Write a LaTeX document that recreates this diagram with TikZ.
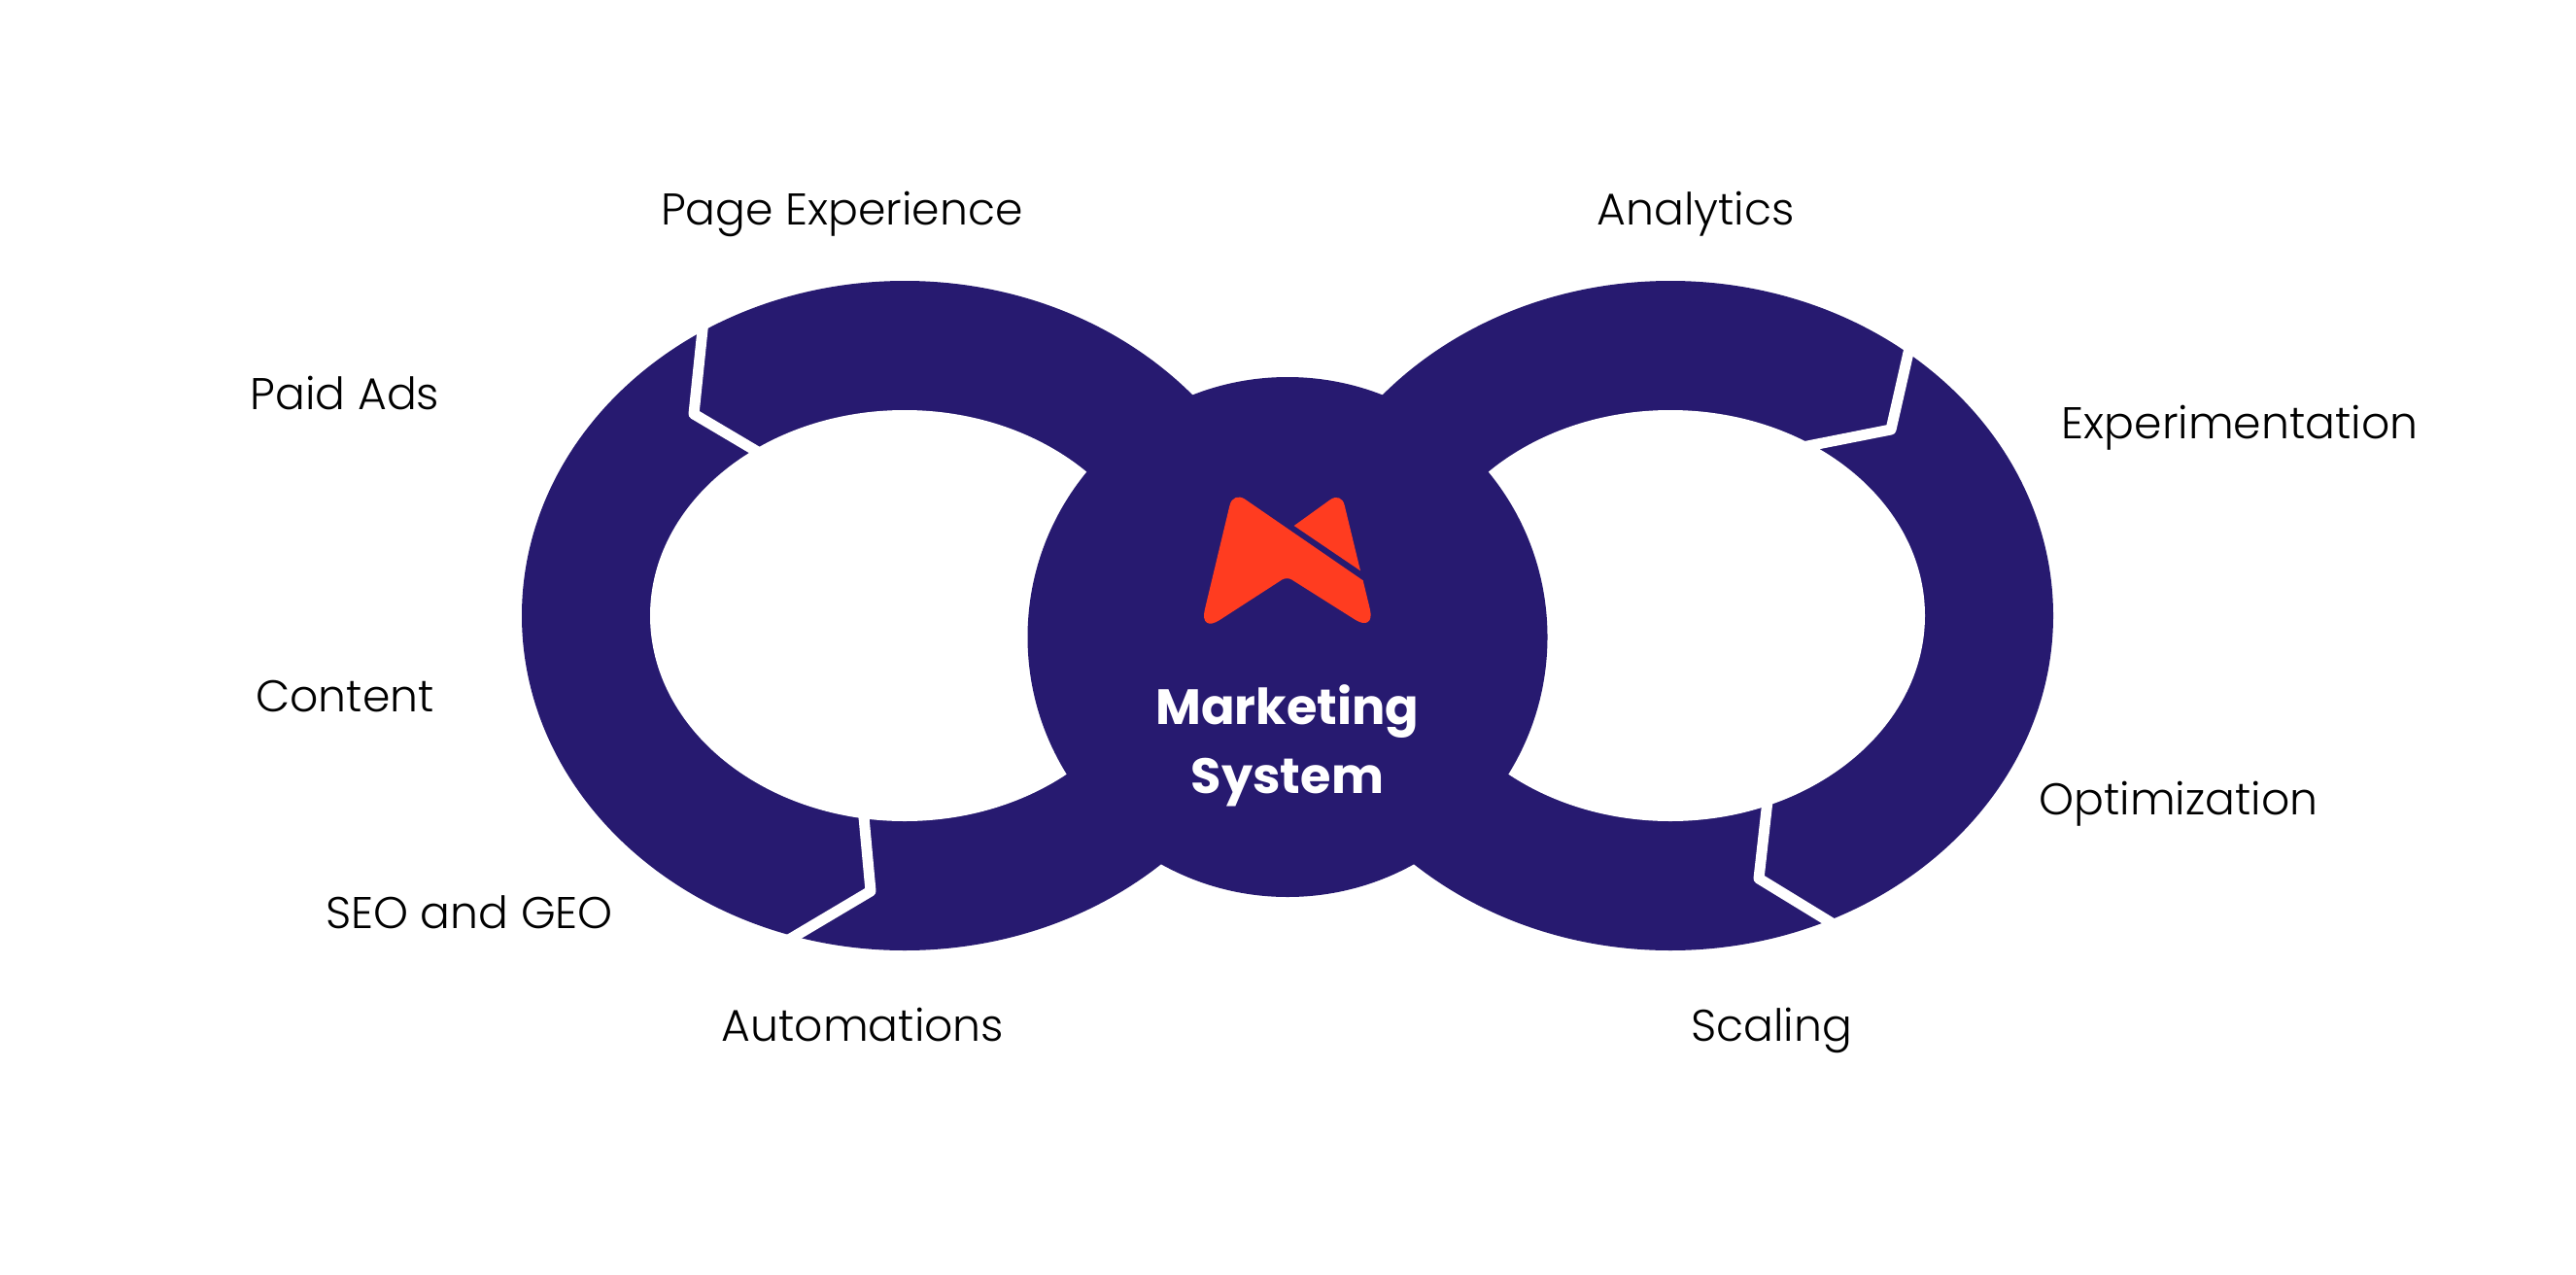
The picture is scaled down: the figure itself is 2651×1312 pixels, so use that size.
\documentclass[tikz,border=0pt]{standalone}
\usepackage{xcolor}
\usepackage{fontspec}
\setmainfont{Poppins}[UprightFont=* Light,BoldFont=* Bold]
\usepackage{tikz}
\usetikzlibrary{positioning}
\definecolor{ringblue}{HTML}{271A70}
\definecolor{logored}{HTML}{FF3C20}

\begin{document}
\begin{tikzpicture}[x=0.01cm,y=-0.01cm]
	\tikzstyle{topic}=[anchor=base,inner sep=0pt,font=\fontsize{13}{15}\selectfont]
	\tikzstyle{title}=[anchor=base,inner sep=0pt,text=white,font=\fontsize{14.5}{17}\selectfont\bfseries]
	\tikzstyle{gap}=[draw=white,line width=0.11cm,line join=round]
	\useasboundingbox (0,0) rectangle (2651,1312);
	% rings
	\fill[ringblue] (931,633.5) ellipse [x radius=394,y radius=344.5];
	\fill[ringblue] (1719,633.5) ellipse [x radius=394,y radius=344.5];
	\fill[white] (931,633.5) ellipse [x radius=262,y radius=211.5];
	\fill[white] (1719,633.5) ellipse [x radius=262,y radius=211.5];
	% cuts
	\path[gap] (725,320) -- (714,426) -- (795,474);
	\path[gap] (888,830) -- (896,917) -- (800,974);
	\path[gap] (1968,345) -- (1946,442) -- (1850,461);
	\path[gap] (1820,815) -- (1810,904) -- (1900,959);
	% hub
	\fill[ringblue] (1325,655.5) circle (267.5);
	% logo
	\fill[logored] (1402.7,597.3) [rounded corners=0.25cm] -- (1415.7,651) [rounded corners=0.06cm] -- (1324.3,593.3) [rounded corners=0.25cm] -- (1234,651.7) [rounded corners=0.15cm] -- (1269,505.3) [sharp corners] -- (1402.7,597.3);
	\fill[logored] (1331.7,541) [rounded corners=0.14cm] -- (1380.3,506) [sharp corners] -- (1400,587.3);
	\node[title](marketing) at (1325,745) {Marketing};
	\node[title](system) at (1325,816) {System};
	% labels
	\node[topic](page) at (866.5,231.5) {Page Experience};
	\node[topic](analytics) at (1745,231.5) {Analytics};
	\node[topic](paid) at (355,421) {Paid Ads};
	\node[topic](experimentation) at (2305,451) {Experimentation};
	\node[topic](content) at (355,732) {Content};
	\node[topic](optimization) at (2242,838) {Optimization};
	\node[topic](seo) at (483,955) {SEO and GEO};
	\node[topic](automations) at (888,1071) {Automations};
	\node[topic](scaling) at (1823,1071) {Scaling};
\end{tikzpicture}
\end{document}
